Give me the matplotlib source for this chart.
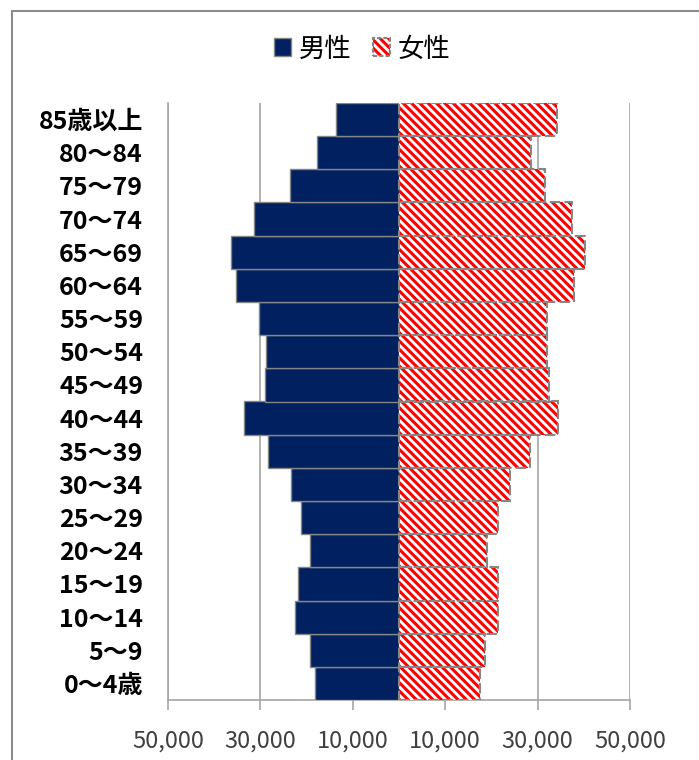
import matplotlib
matplotlib.use('Agg')
import matplotlib.pyplot as plt
from matplotlib.patches import Patch, Rectangle
from matplotlib.legend_handler import HandlerTuple

plt.rcParams['font.family'] = ['Noto Sans CJK JP', 'DejaVu Sans']
plt.rcParams['hatch.linewidth'] = 2.2

# age groups, bottom -> top
ages = ['0～4歳', '5～9', '10～14', '15～19', '20～24', '25～29', '30～34', '35～39', '40～44',
        '45～49', '50～54', '55～59', '60～64', '65～69', '70～74', '75～79', '80～84', '85歳以上']
male = [18100, 19200, 22500, 21800, 19300, 21250, 23350, 28300, 33500,
        29100, 28850, 30300, 35300, 36450, 31450, 23700, 17850, 13550]
female = [17500, 18650, 21500, 21500, 19150, 21450, 24000, 28350, 34450,
          32400, 32100, 32100, 37900, 40300, 37550, 31600, 28550, 34150]
xticks = [-50000, -30000, -10000, 10000, 30000, 50000]

W, H = 699, 760
fig = plt.figure(figsize=(W/100, H/100), dpi=100)
ax = fig.add_axes([168/W, 1-700/H, (630-168)/W, (700-103)/H])

navy = '#002060'
edge = '#868686'
hatch = chr(92) * 4   # backslashes -> dense "\" stripes
y = list(range(len(ages)))

ax.barh(y, [-v for v in male], height=1.0, color=navy, edgecolor=edge, linewidth=1.0, zorder=3)
ax.barh(y, female, height=1.0, color='white', edgecolor='red', hatch=hatch, linewidth=0, zorder=3)
ax.barh(y, female, height=1.0, fill=False, edgecolor=edge, linewidth=1.5,
        linestyle=(0, (5, 2)), zorder=4)

ax.set_xlim(-50000, 50000)
ax.set_ylim(-0.5, len(ages)-0.5)
ax.set_xticks(xticks)
ax.set_xticklabels(['{:,}'.format(abs(t)) for t in xticks])
ax.set_yticks(y)
ax.set_yticklabels(ages, fontweight='bold')

ax.set_axisbelow(True)
ax.grid(axis='x', color='#a6a6a6', linewidth=1.2)
ax.grid(axis='y', visible=False)
for s in ['top', 'right']:
    ax.spines[s].set_visible(False)
for s in ['left', 'bottom']:
    ax.spines[s].set_color('#a6a6a6')
    ax.spines[s].set_linewidth(1.2)

ax.tick_params(axis='x', direction='out', length=7, color='#a6a6a6', width=1.2,
               labelcolor='#404040', labelsize=17, pad=14)
ax.tick_params(axis='y', length=0, labelsize=18, labelcolor='black', pad=18)

# chart frame (cut off at right/bottom in the source)
fig.patches.append(Rectangle((12/W, -0.1), 1.2, (1-10.5/H)+0.1, transform=fig.transFigure,
                             fill=False, edgecolor='#8c8c8c', linewidth=1.5))

h_m = Patch(facecolor=navy, edgecolor=edge, linewidth=1.0)
h_f1 = Patch(facecolor='white', edgecolor='red', hatch=hatch, linewidth=0)
h_f2 = Patch(fill=False, edgecolor=edge, linewidth=1.5, linestyle=(0, (2, 1)))
fig.legend([h_m, (h_f1, h_f2)], ['男性', '女性'], loc='center',
           bbox_to_anchor=(362/W, 1-49/H), ncol=2, frameon=False, fontsize=19,
           handlelength=0.65, handleheight=0.65, handletextpad=0.3, columnspacing=0.8,
           handler_map={tuple: HandlerTuple(ndivide=1)})

fig.savefig('out.png', dpi=100)
